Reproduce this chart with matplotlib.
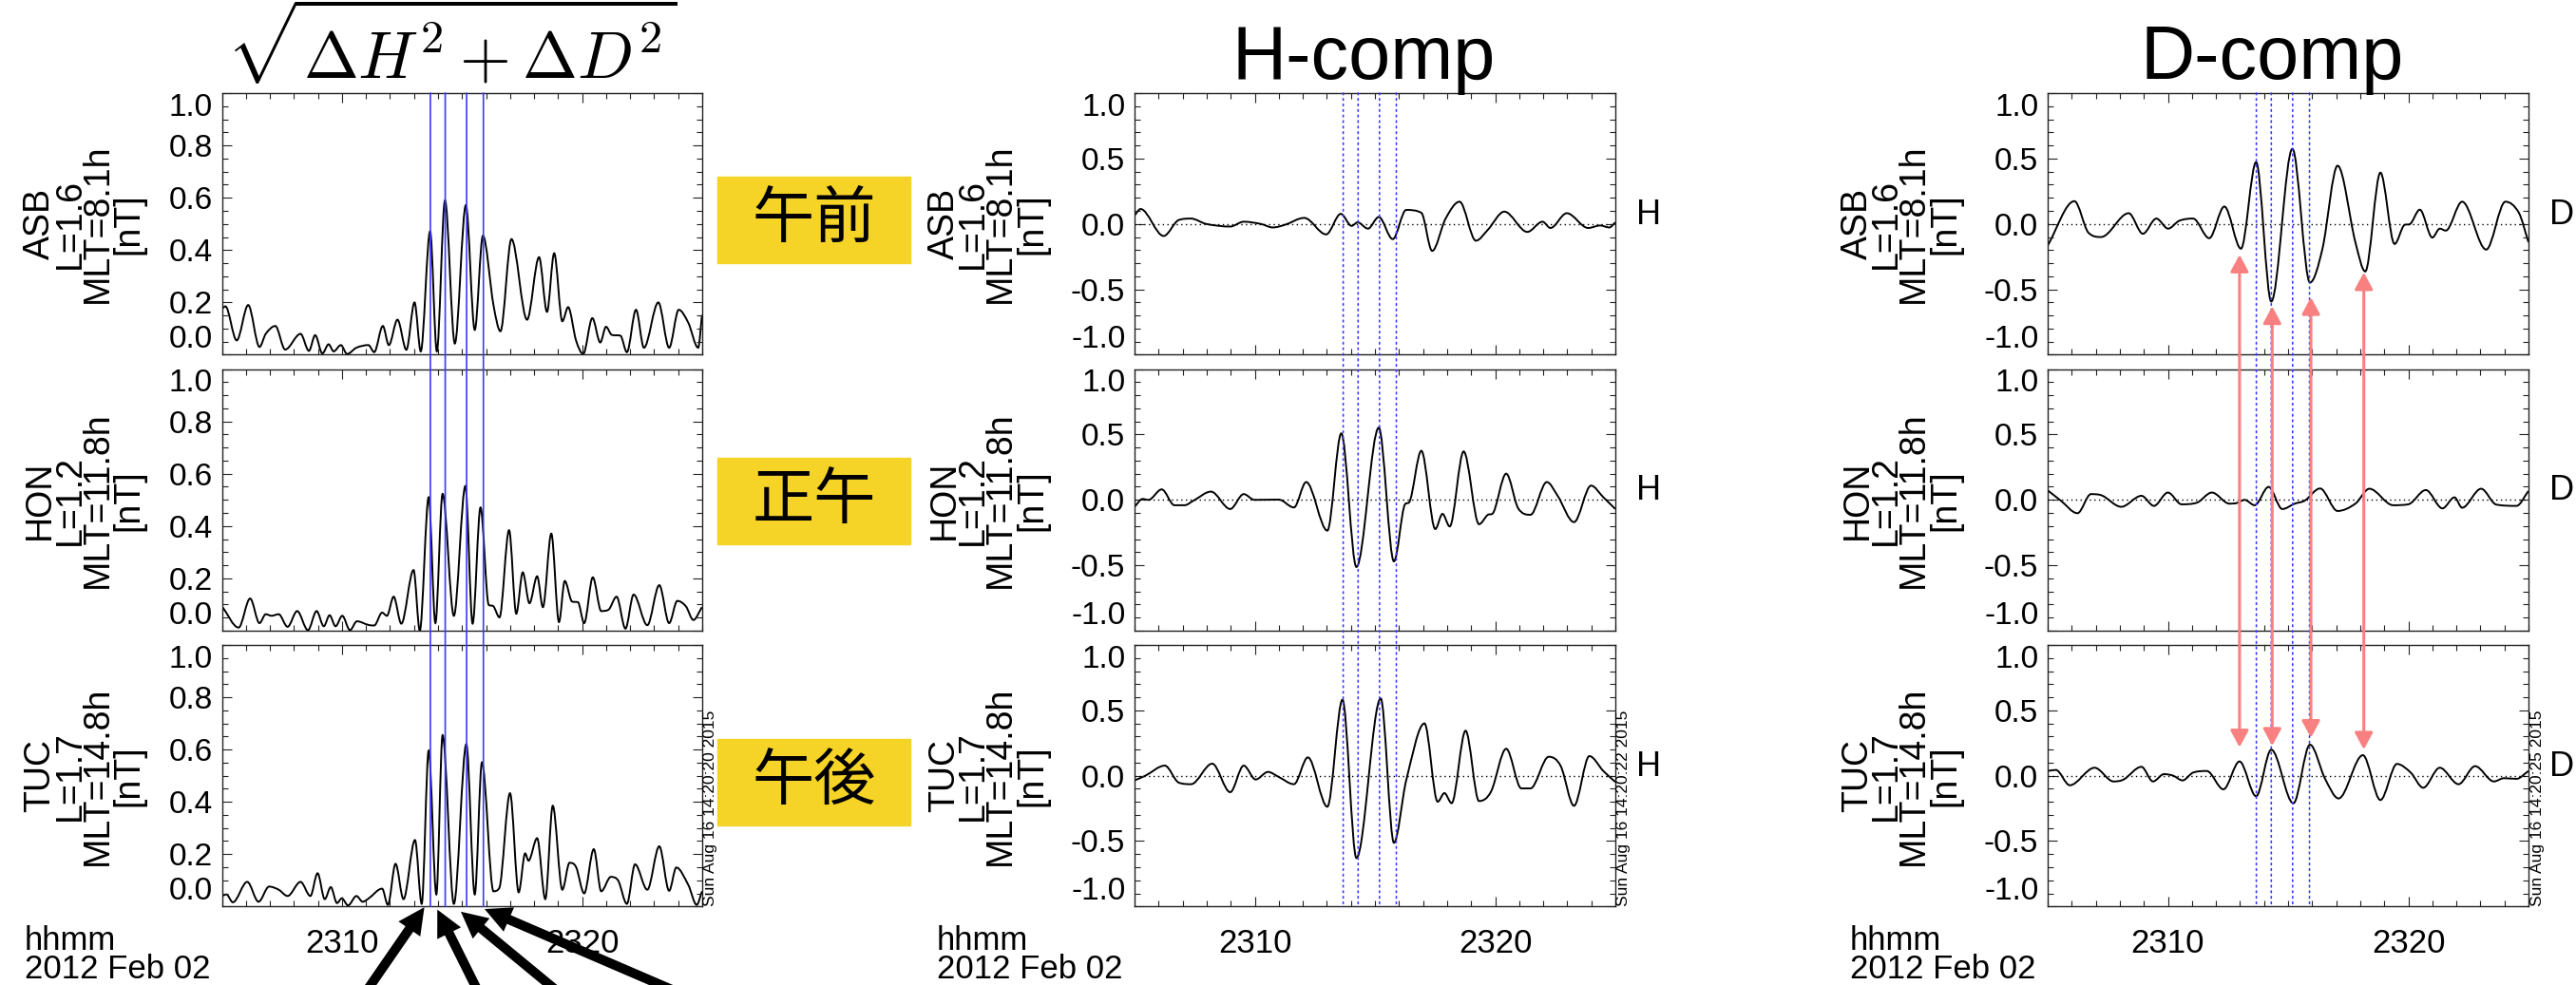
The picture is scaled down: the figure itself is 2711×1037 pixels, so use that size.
import numpy as np
import matplotlib
matplotlib.use('Agg')
import matplotlib.pyplot as plt
from matplotlib.path import Path
from matplotlib.patches import PathPatch, Rectangle, ConnectionPatch, ArrowStyle
from matplotlib.ticker import MultipleLocator, FixedLocator

plt.rcParams['font.family'] = ['Liberation Sans', 'DejaVu Sans']
plt.rcParams['axes.unicode_minus'] = False

# ---- station info ----
stations = ['ASB', 'HON', 'TUC']
l_values = ['1.6', '1.2', '1.7']
mlt_values = ['8.1', '11.8', '14.8']
timestamps = ['Sun Aug 16 14:20:20 2015', 'Sun Aug 16 14:20:22 2015', 'Sun Aug 16 14:20:25 2015']
day_labels = ['午前', '正午', '午後']

# time axis: minutes after 23:00 UT
xtick_pos = [10, 20]
xtick_labels = ['2310', '2320']

# amplitude sqrt(dH^2 + dD^2) [nT]
asb_amp_t = [5.0, 5.14, 5.61, 6.09, 6.56, 6.82, 7.22, 7.63, 8.27, 8.62, 8.88, 9.18, 9.44, 9.65, 9.95, 10.21,
             10.6, 11.1, 11.34, 11.7, 11.95, 12.31, 12.68, 13.02, 13.28, 13.67, 13.95, 14.29, 14.7, 15.16, 15.53,
             15.87, 16.31, 16.6, 17.06, 17.71, 18.21, 18.54, 18.84, 19.18, 19.42, 19.75, 20.05, 20.43, 20.76,
             21.0, 21.24, 21.6, 21.87, 22.25, 22.58, 23.18, 23.63, 24.03, 24.43, 24.84, 25.0]
asb_amp_v = [0.176, 0.185, 0.055, 0.19, 0.03, 0.08, 0.11, 0.02, 0.08, 0.015, 0.075, 0.005, 0.04, 0.013, 0.037,
             0.003, 0.027, 0.037, 0.01, 0.11, 0.037, 0.134, 0.019, 0.2, 0.013, 0.472, 0.013, 0.59, 0.043, 0.572,
             0.095, 0.455, 0.19, 0.09, 0.442, 0.134, 0.373, 0.164, 0.388, 0.128, 0.182, 0.055, 0.003, 0.14, 0.047,
             0.107, 0.076, 0.073, 0.01, 0.172, 0.027, 0.2, 0.027, 0.172, 0.122, 0.027, 0.152]
hon_amp_t = [5.0, 5.69, 6.17, 6.56, 6.82, 7.06, 7.36, 7.73, 8.13, 8.58, 8.94, 9.24, 9.48, 9.73, 10.01, 10.33,
             10.62, 11.1, 11.34, 11.67, 11.87, 12.15, 12.47, 12.98, 13.24, 13.61, 13.89, 14.19, 14.66, 15.14,
             15.44, 15.77, 16.11, 16.31, 16.56, 16.96, 17.26, 17.53, 17.81, 18.13, 18.37, 18.72, 19.04, 19.28,
             19.59, 19.83, 20.09, 20.45, 20.8, 21.1, 21.44, 21.81, 22.15, 22.72, 23.22, 23.63, 23.97, 24.33,
             24.64, 25.0]
hon_amp_v = [0.093, 0.012, 0.123, 0.029, 0.063, 0.057, 0.063, 0.015, 0.075, 0.002, 0.075, 0.017, 0.059, 0.017,
             0.057, 0.002, 0.036, 0.022, 0.02, 0.069, 0.057, 0.13, 0.027, 0.232, 0.0, 0.51, 0.029, 0.523, 0.057,
             0.553, 0.027, 0.471, 0.099, 0.093, 0.051, 0.384, 0.065, 0.223, 0.105, 0.208, 0.09, 0.371, 0.033,
             0.19, 0.111, 0.109, 0.029, 0.204, 0.075, 0.08, 0.13, 0.008, 0.138, 0.021, 0.174, 0.029, 0.114,
             0.093, 0.041, 0.09]
tuc_amp_t = [5.0, 5.18, 5.45, 6.05, 6.52, 6.96, 7.36, 7.73, 8.27, 8.68, 8.98, 9.28, 9.53, 9.79, 9.99, 10.25,
             10.6, 10.86, 11.1, 11.67, 11.91, 12.23, 12.56, 13.04, 13.32, 13.61, 13.93, 14.19, 14.66, 15.18,
             15.53, 15.83, 16.31, 16.55, 17.0, 17.36, 17.63, 17.77, 18.13, 18.47, 18.78, 19.18, 19.48, 19.75,
             20.09, 20.49, 20.8, 21.2, 21.5, 21.87, 22.21, 22.72, 23.22, 23.63, 23.93, 24.43, 24.78, 25.0]
tuc_amp_v = [0.04, 0.046, 0.016, 0.094, 0.018, 0.076, 0.064, 0.04, 0.094, 0.04, 0.127, 0.028, 0.074, 0.013,
             0.031, 0.004, 0.04, 0.018, 0.03, 0.068, 0.006, 0.163, 0.028, 0.254, 0.01, 0.596, 0.046, 0.655, 0.01,
             0.621, 0.046, 0.551, 0.058, 0.07, 0.433, 0.054, 0.203, 0.175, 0.261, 0.028, 0.385, 0.064, 0.167,
             0.151, 0.05, 0.219, 0.058, 0.113, 0.1, 0.01, 0.161, 0.064, 0.23, 0.06, 0.149, 0.082, 0.006, 0.058]

# H component [nT]
asb_h_t = [5.0, 5.25, 6.21, 6.84, 7.35, 7.98, 8.98, 9.54, 10.25, 10.75, 11.25, 12.06, 12.97, 13.58, 14.03,
           14.28, 14.71, 15.16, 15.74, 16.3, 16.93, 17.38, 17.94, 18.52, 19.2, 19.7, 20.38, 21.34, 21.97,
           22.3, 22.98, 23.87, 24.37, 24.75, 25.0]
asb_h_v = [0.065, 0.114, -0.092, 0.03, 0.041, 0.0, -0.02, 0.017, 0.0, -0.027, -0.007, 0.046, -0.08, 0.077,
           -0.015, 0.012, -0.036, 0.053, -0.116, 0.107, 0.085, -0.206, 0.041, 0.17, -0.128, -0.044, 0.094,
           -0.061, 0.017, -0.031, 0.082, -0.031, -0.012, -0.027, 0.012]
hon_h_t = [5.0, 5.33, 5.58, 6.13, 6.66, 7.08, 7.46, 8.18, 8.98, 9.54, 9.99, 11.0, 11.63, 12.14, 13.02, 13.6,
           14.23, 15.16, 15.79, 16.25, 16.43, 16.93, 17.51, 17.81, 18.11, 18.69, 19.33, 19.7, 19.88, 20.46,
           20.96, 21.47, 22.15, 22.6, 23.28, 23.99, 24.5, 25.0]
hon_h_v = [-0.053, 0.007, 0.0, 0.08, -0.041, -0.041, -0.005, 0.063, -0.07, 0.044, 0.0, 0.002, -0.058, 0.136,
           -0.235, 0.508, -0.513, 0.552, -0.47, -0.034, -0.017, 0.375, -0.223, -0.107, -0.203, 0.37, -0.186,
           -0.114, -0.107, 0.2, -0.065, -0.114, 0.136, 0.031, -0.17, 0.109, 0.02, -0.07]
tuc_h_t = [5.0, 5.45, 6.26, 6.84, 7.35, 8.23, 8.98, 9.54, 10.04, 10.55, 11.0, 11.63, 12.21, 13.02, 13.65,
           14.23, 15.24, 15.79, 16.3, 17.06, 17.61, 17.89, 18.19, 18.77, 19.33, 19.83, 20.46, 21.09, 21.47,
           22.23, 22.73, 23.28, 23.92, 24.5, 25.0]
tuc_h_v = [-0.036, 0.0, 0.077, -0.053, -0.065, 0.092, -0.126, 0.077, -0.029, 0.029, -0.01, -0.065, 0.14,
           -0.237, 0.581, -0.63, 0.591, -0.513, -0.036, 0.4, -0.199, -0.133, -0.21, 0.344, -0.194, -0.121,
           0.206, -0.097, -0.097, 0.145, 0.073, -0.23, 0.15, 0.036, -0.048]

# D component [nT]
asb_d_t = [5.0, 6.11, 6.7, 7.22, 8.37, 8.96, 9.52, 10.01, 10.47, 11.05, 11.72, 12.35, 13.04, 13.67, 14.3,
           15.18, 15.91, 16.43, 17.06, 17.8, 18.21, 18.84, 19.43, 19.85, 20.06, 20.48, 21.0, 21.31, 21.56,
           22.24, 23.24, 24.04, 24.6, 25.0]
asb_d_v = [-0.165, 0.174, -0.068, -0.1, 0.082, -0.075, 0.041, -0.036, 0.024, 0.041, -0.109, 0.133, -0.189,
           0.472, -0.593, 0.574, -0.448, -0.189, 0.445, -0.14, -0.363, 0.392, -0.153, -0.007, -0.002, 0.109,
           -0.104, -0.036, -0.051, 0.17, -0.196, 0.17, 0.085, -0.14]
hon_d_t = [5.0, 5.54, 6.24, 6.8, 7.22, 8.06, 8.9, 9.42, 10.0, 10.57, 11.2, 11.83, 12.56, 12.87, 13.19, 13.61,
           14.19, 14.76, 15.28, 15.7, 16.33, 17.06, 17.8, 18.38, 19.37, 20.0, 20.73, 21.42, 21.92, 22.24,
           23.03, 23.66, 24.5, 25.0]
hon_d_v = [0.073, -0.005, -0.102, 0.044, 0.036, -0.053, 0.031, -0.046, 0.056, -0.034, -0.022, 0.056, -0.029,
           -0.024, 0.0, -0.041, 0.099, -0.07, -0.029, -0.005, 0.087, -0.085, -0.029, 0.085, -0.041, -0.034,
           0.075, -0.065, 0.019, -0.06, 0.085, -0.036, -0.046, 0.068]
tuc_d_t = [5.0, 5.34, 5.92, 6.95, 7.74, 8.16, 8.9, 9.38, 9.84, 10.22, 10.61, 11.05, 11.62, 12.31, 12.98,
           13.67, 14.3, 15.22, 15.91, 16.54, 17.1, 18.11, 18.84, 19.53, 20.1, 20.62, 21.31, 22.09, 22.78,
           23.56, 23.98, 24.5, 25.0]
tuc_d_v = [0.036, 0.044, -0.073, 0.061, -0.044, -0.029, 0.068, -0.044, 0.012, 0.0, -0.036, 0.024, 0.036,
           -0.104, 0.109, -0.157, 0.199, -0.211, 0.237, -0.024, -0.174, 0.157, -0.186, 0.09, 0.024, -0.092,
           0.061, -0.065, 0.073, -0.044, -0.019, -0.024, 0.036]

# marked wave times (blue lines)
wave_times = [13.68, 14.30, 15.19, 15.89]

# red arrows linking ASB D minima to TUC D maxima
link_t = [12.98, 14.34, 15.95, 18.15]
link_asb = [-0.235, -0.63, -0.56, -0.37]
link_tuc = [0.217, 0.229, 0.29, 0.2]

# black arrows under the amplitude panel (tip / tail in TUC amplitude axes data)
ptr_tip_t = [13.43, 13.97, 14.95, 15.94]
ptr_tip_v = [-0.003, -0.012, -0.02, -0.01]
ptr_tail_t = [10.52, 16.02, 19.84, 25.56]
ptr_tail_v = [-0.39, -0.39, -0.39, -0.39]

amp_t = [asb_amp_t, hon_amp_t, tuc_amp_t]
amp_v = [asb_amp_v, hon_amp_v, tuc_amp_v]
h_t = [asb_h_t, hon_h_t, tuc_h_t]
h_v = [asb_h_v, hon_h_v, tuc_h_v]
d_t = [asb_d_t, hon_d_t, tuc_d_t]
d_v = [asb_d_v, hon_d_v, tuc_d_v]


def wave_path(t, v):
    # smooth cubic Bezier path through the given samples (flat at extrema)
    t = np.asarray(t, float)
    v = np.asarray(v, float)
    n = len(t)
    sec = np.diff(v) / np.diff(t)
    m = np.zeros(n)
    m[0], m[-1] = sec[0], sec[-1]
    for i in range(1, n - 1):
        if sec[i - 1] * sec[i] > 0:
            c = (v[i + 1] - v[i - 1]) / (t[i + 1] - t[i - 1])
            lim = 3 * min(abs(sec[i - 1]), abs(sec[i]))
            m[i] = np.sign(c) * min(abs(c), lim)
    verts = [(t[0], v[0])]
    codes = [Path.MOVETO]
    for i in range(n - 1):
        h = t[i + 1] - t[i]
        verts += [(t[i] + h / 3, v[i] + m[i] * h / 3),
                  (t[i + 1] - h / 3, v[i + 1] - m[i + 1] * h / 3),
                  (t[i + 1], v[i + 1])]
        codes += [Path.CURVE4] * 3
    return Path(verts, codes)


W, H = 2711, 1037
fig = plt.figure(figsize=(W / 100, H / 100), dpi=100)


def fx(px):
    return px / W


def fy(py):
    return 1 - py / H


cols = [(233.7, 738.8), (1194, 1700), (2155, 2661)]
rows = [(98, 373.5), (388.5, 664), (679, 954.3)]
ylab_off = [[-192, -160, -131, -98], [-200, -170, -141, -108], [-200, -170, -141, -108]]

axes = [[None] * 3 for _ in range(3)]
for c, (x0, x1) in enumerate(cols):
    for r, (y0, y1) in enumerate(rows):
        ax = fig.add_axes([fx(x0), fy(y1), (x1 - x0) / W, (y1 - y0) / H])
        axes[r][c] = ax
        ax.set_xlim(5, 25)
        if c == 0:
            ax.set_ylim(0, 1)
            ax.yaxis.set_major_locator(FixedLocator([0, 0.2, 0.4, 0.6, 0.8, 1.0]))
            ax.set_yticklabels(['0.0', '0.2', '0.4', '0.6', '0.8', '1.0'])
            ax.yaxis.set_minor_locator(MultipleLocator(0.05))
            tt, vv = amp_t[r], amp_v[r]
        else:
            ax.set_ylim(-1, 1)
            ax.yaxis.set_major_locator(FixedLocator([-1, -0.5, 0, 0.5, 1.0]))
            ax.set_yticklabels(['-1.0', '-0.5', '0.0', '0.5', '1.0'])
            ax.yaxis.set_minor_locator(MultipleLocator(0.1))
            ax.axhline(0, color='black', lw=1.0, ls=(0, (1, 2.5)))
            tt, vv = (h_t, d_t)[c - 1][r], (h_v, d_v)[c - 1][r]
            ax.text(1 + 22 / 506, 0, 'HD'[c - 1], transform=ax.get_yaxis_transform(),
                    ha='left', va='baseline', fontsize=26)
        ax.add_patch(PathPatch(wave_path(tt, vv), fill=False, ec='black', lw=1.4))

        ax.xaxis.set_major_locator(FixedLocator(xtick_pos))
        ax.xaxis.set_minor_locator(MultipleLocator(1))
        ax.tick_params(which='both', direction='in', top=True, right=True, width=0.8, color='#222222')
        ax.tick_params(which='major', length=7.2, labelsize=24, pad=7)
        ax.tick_params(which='minor', length=4.3)
        if r == 2:
            ax.set_xticklabels(xtick_labels)
            ax.tick_params(axis='x', labelsize=25, pad=16)
        else:
            ax.tick_params(axis='x', labelbottom=False)
        for sp in ax.spines.values():
            sp.set_linewidth(1.0)
            sp.set_color('#222222')
        yt = ax.yaxis.get_major_ticks()
        yt[0].label1.set_verticalalignment('bottom')
        yt[-1].label1.set_verticalalignment('top')

        # station label, four stacked rotated lines
        yc = fy((y0 + y1) / 2)
        lines = [stations[r], 'L=' + l_values[r], 'MLT=' + mlt_values[r] + 'h', '[nT]']
        for off, s in zip(ylab_off[c], lines):
            fig.text(fx(x0 + off), yc, s, rotation=90, ha='center', va='center', fontsize=27)

    # time stamp and time axis caption
    fig.text(fx(x1 + 9), fy(954), timestamps[c], rotation=90, ha='center', va='bottom', fontsize=12.5)
    fig.text(fx(x0 - 208), fy(1000), 'hhmm', ha='left', va='baseline', fontsize=25)
    fig.text(fx(x0 - 208), fy(1030), '2012 Feb 02', ha='left', va='baseline', fontsize=25)

# wave markers: solid in amplitude column, dotted in H and D columns
for c in range(3):
    top, bot = axes[0][c], axes[2][c]
    ytop, ybot = top.get_ylim()[1], bot.get_ylim()[0]
    for t in wave_times:
        if c == 0:
            con = ConnectionPatch(xyA=(t, ytop), coordsA=top.transData, xyB=(t, ybot), coordsB=bot.transData,
                                  color='#3a3aff', lw=1.2)
        else:
            con = ConnectionPatch(xyA=(t, ytop), coordsA=top.transData, xyB=(t, ybot), coordsB=bot.transData,
                                  color='#3a3aff', lw=1.2, ls=(0, (1, 2.5)))
        fig.add_artist(con)

# red double arrows in D column
for t, ya, yb in zip(link_t, link_asb, link_tuc):
    con = ConnectionPatch(xyA=(t, yb), coordsA=axes[2][2].transData, xyB=(t, ya), coordsB=axes[0][2].transData,
                          arrowstyle=ArrowStyle('<|-|>', head_length=1.08, head_width=0.58), mutation_scale=10,
                          color='#f98080', lw=2.2, shrinkA=0, shrinkB=0)
    fig.add_artist(con)

# black pointer arrows under amplitude panel
for tt, tv, st, sv in zip(ptr_tip_t, ptr_tip_v, ptr_tail_t, ptr_tail_v):
    axes[2][0].annotate('', xy=(tt, tv), xytext=(st, sv), annotation_clip=False,
                        arrowprops=dict(arrowstyle='simple,head_length=1.0,head_width=1.0,tail_width=0.36',
                                        mutation_scale=20, fc='black', ec='black', lw=0,
                                        shrinkA=0, shrinkB=0))

# morning / noon / afternoon tags
for (y0, y1), lab in zip([(186, 277), (482, 573), (778, 869)], day_labels):
    fig.add_artist(Rectangle((fx(755), fy(y1)), 203 / W, (y1 - y0) / H, transform=fig.transFigure,
                             color='#f5d327', zorder=0.5))
    fig.text(fx(856.5), fy((y0 + y1) / 2), lab, ha='center', va='center', fontsize=47,
             family=['Noto Sans CJK JP', 'DejaVu Sans'])

# column titles
fig.text(fx(475), fy(50), r'$\sqrt{\Delta H^2 + \Delta D^2}$', ha='center', va='center',
         fontsize=50, math_fontfamily='cm')
fig.text(fx(1435), fy(83), 'H-comp', ha='center', va='baseline', fontsize=57)
fig.text(fx(2391), fy(83), 'D-comp', ha='center', va='baseline', fontsize=57)

fig.savefig('out.png', dpi=100)
